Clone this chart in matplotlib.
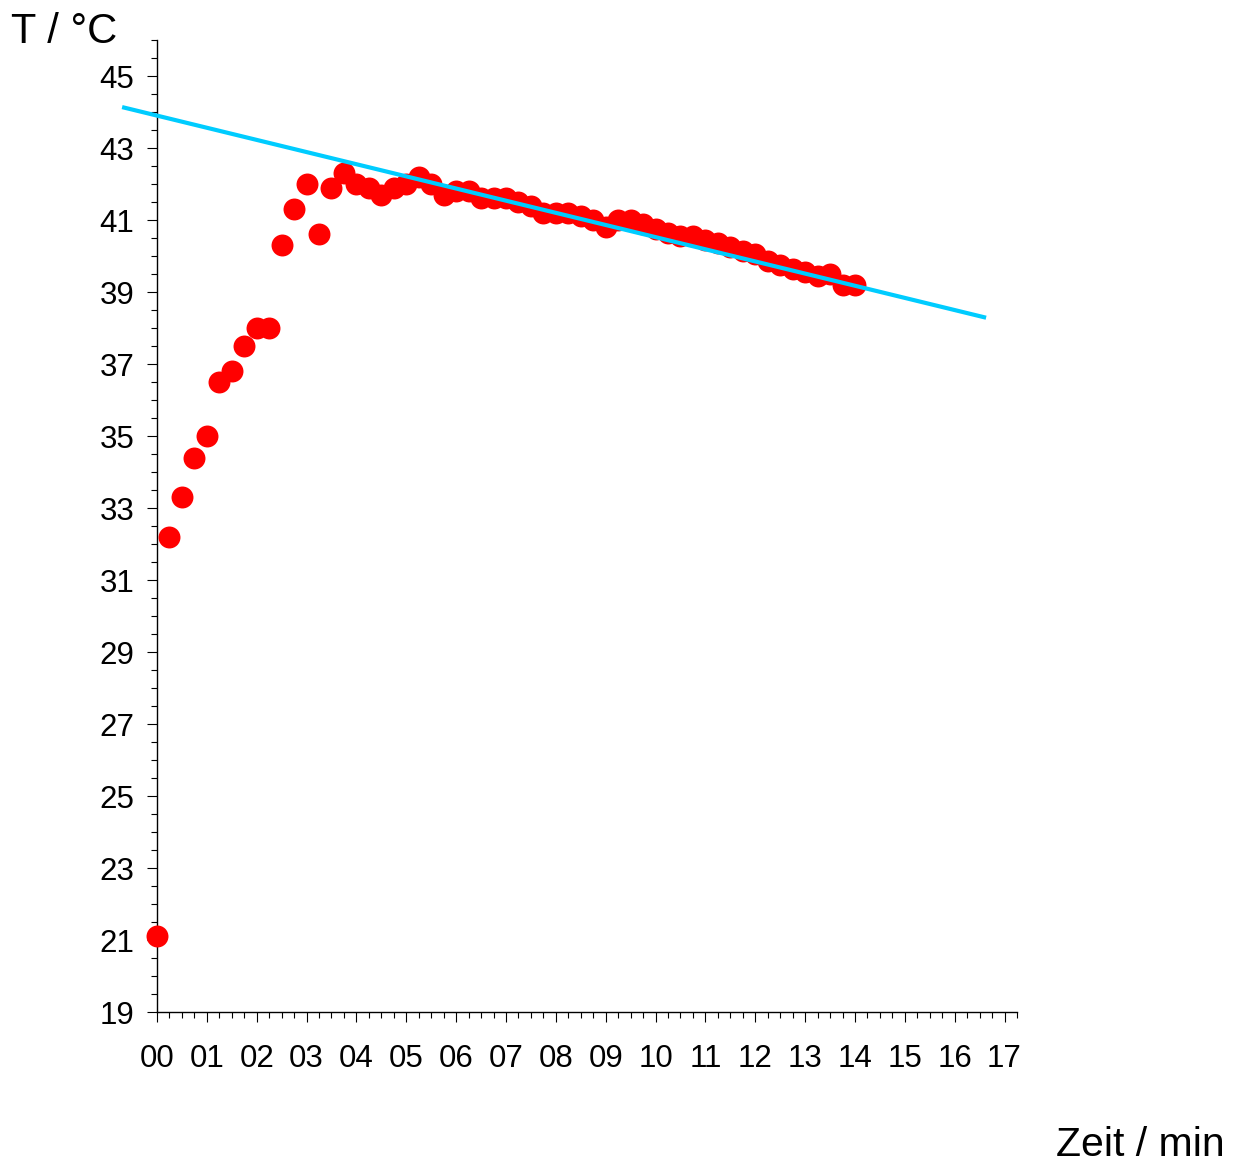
import matplotlib
matplotlib.use("Agg")
import matplotlib.pyplot as plt
from matplotlib.ticker import FixedLocator, MultipleLocator, FuncFormatter
import numpy as np

# Messwerte: alle 15 s (0.25 min)
zeit_min = np.arange(0, 14.01, 0.25)
temp_c = [21.1, 32.2, 33.3, 34.4, 35.0, 36.5, 36.8, 37.5, 38.0, 38.0,
          40.3, 41.3, 42.0, 40.6, 41.9, 42.3, 42.0, 41.9, 41.7, 41.9,
          42.0, 42.2, 42.0, 41.7, 41.8, 41.8, 41.6, 41.6, 41.6, 41.5,
          41.4, 41.2, 41.2, 41.2, 41.1, 41.0, 40.8, 41.0, 41.0, 40.9,
          40.75, 40.65, 40.55, 40.55, 40.45, 40.35, 40.25, 40.15, 40.05, 39.85,
          39.75, 39.65, 39.55, 39.45, 39.5, 39.2, 39.2]

# Ausgleichsgerade
fit_t = [-0.70, 16.63]
fit_intercept = 43.90
fit_slope = -0.3376

y_labels = np.arange(19, 46, 2)

plt.rcParams['font.family'] = ['Liberation Sans', 'DejaVu Sans']

fig = plt.figure(figsize=(12.39, 11.62), dpi=100)
ax = fig.add_axes([157 / 1239, 1 - 1012 / 1162, (1017 - 157) / 1239, (1012 - 40) / 1162])

ax.plot(zeit_min, temp_c, 'o', color='#ff0000', markersize=15.8, markeredgewidth=0,
        zorder=3, clip_on=False)

ft = np.array(fit_t)
ax.plot(ft, fit_intercept + fit_slope * ft, color='#00ccff', lw=3, zorder=4,
        clip_on=False, solid_capstyle='butt')

ax.set_xlim(0, 17.25)
ax.set_ylim(19, 46)

for s in ['top', 'right']:
    ax.spines[s].set_visible(False)
for s in ['left', 'bottom']:
    ax.spines[s].set_linewidth(1.0)

ax.xaxis.set_major_locator(MultipleLocator(1))
ax.xaxis.set_minor_locator(MultipleLocator(0.25))
ax.xaxis.set_major_formatter(FuncFormatter(lambda v, p: '%02d' % int(round(v))))
ax.yaxis.set_major_locator(FixedLocator(y_labels))
ax.yaxis.set_minor_locator(MultipleLocator(0.5))

ax.tick_params(axis='x', which='major', length=7.2, width=0.8, pad=16, labelsize=22.5)
ax.tick_params(axis='x', which='minor', length=4.3, width=0.8)
ax.tick_params(axis='y', which='major', length=7.2, width=0.8, pad=9, labelsize=22.5)
ax.tick_params(axis='y', which='minor', length=4.6, width=0.8)

fig.text(11 / 1239, 1 - 43 / 1162, 'T / °C', ha='left', va='baseline', fontsize=30)
fig.text(1225 / 1239, 1 - 1156 / 1162, 'Zeit / min', ha='right', va='baseline', fontsize=29.5)

fig.savefig('out.png', dpi=100)
